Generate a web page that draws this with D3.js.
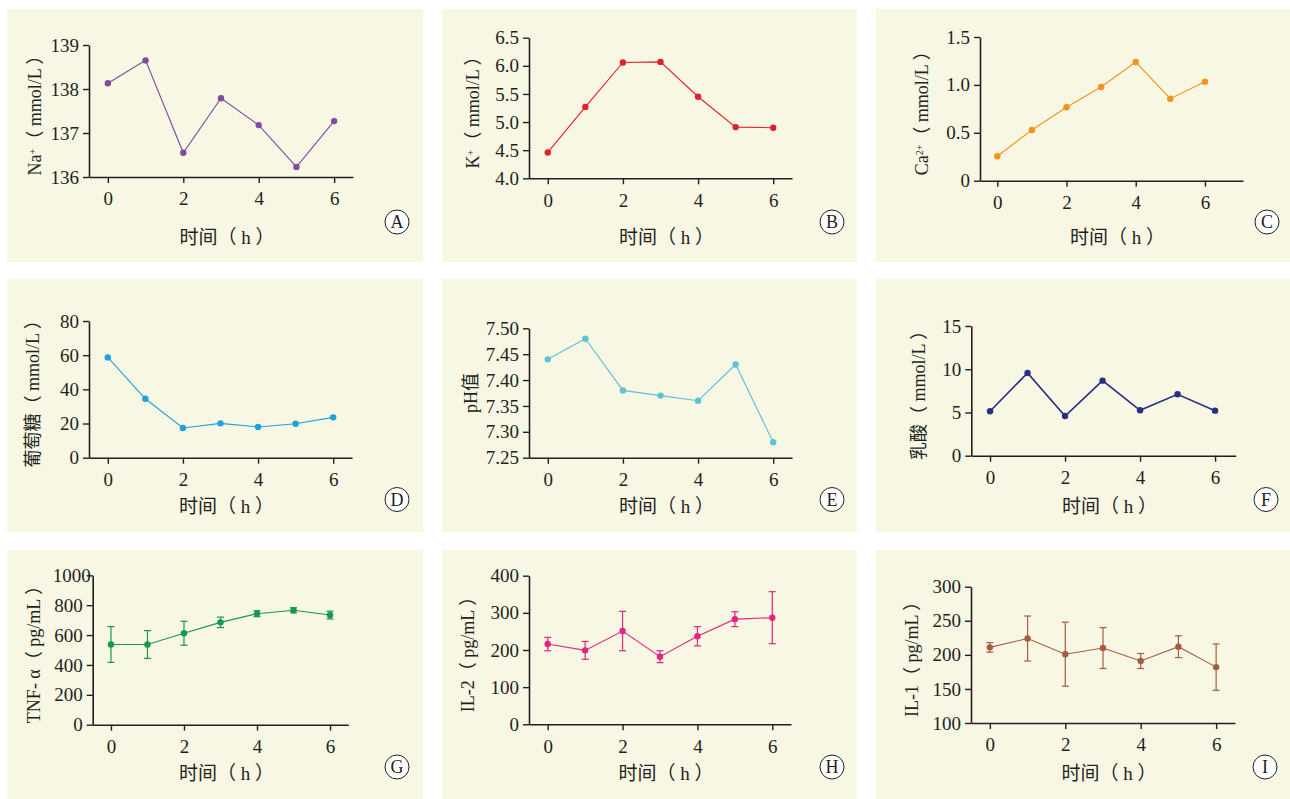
<!DOCTYPE html>
<html>
<head>
<meta charset="utf-8">
<script src="https://cdn.jsdelivr.net/npm/d3@7"></script>
<style>
  body { margin: 0; background: #ffffff; }
  text { font-family: "Liberation Serif", "Noto Sans CJK SC", serif; fill: #231f20; }
</style>
</head>
<body>
<div id="chart"></div>
<script>
var width = 1290;
var height = 799;

// time points (h)
var hours = [0, 1, 2, 3, 4, 5, 6];
var hourTicks = [0, 2, 4, 6];

// A-F: single series
var naValues = [138.13, 138.65, 136.55, 137.79, 137.18, 136.23, 137.27];
var kValues = [4.46, 5.27, 6.06, 6.07, 5.45, 4.91, 4.90];
var caValues = [0.255, 0.53, 0.766, 0.978, 1.239, 0.856, 1.034];
var gluValues = [58.7, 34.5, 17.4, 20.1, 18.0, 19.9, 23.6];
var phValues = [7.44, 7.48, 7.38, 7.37, 7.36, 7.43, 7.28];
var lacValues = [5.14, 9.57, 4.59, 8.68, 5.25, 7.1, 5.21];

// G-I: mean with error
var tnfMean = [537, 537, 612, 685, 743, 766, 734];
var tnfErr = [120, 93, 80, 35, 20, 17, 26];
var il2Mean = [216, 199, 251, 182, 237, 283, 287];
var il2Err = [18, 24, 53, 16, 26, 20, 70];
var il1Mean = [211, 224, 201, 210, 191, 212, 182];
var il1Err = [7, 33, 47, 30, 11, 16, 34];

// y tick labels
var naTicks = [136, 137, 138, 139];
var kTicks = [4.0, 4.5, 5.0, 5.5, 6.0, 6.5];
var caTicks = [0, 0.5, 1.0, 1.5];
var gluTicks = [0, 20, 40, 60, 80];
var phTicks = [7.25, 7.30, 7.35, 7.40, 7.45, 7.50];
var lacTicks = [0, 5, 10, 15];
var tnfTicks = [0, 200, 400, 600, 800, 1000];
var il2Ticks = [0, 100, 200, 300, 400];
var il1Ticks = [100, 150, 200, 250, 300];

var bgColor = "#f8f7e3";
var axisColor = "#231f20";

var panels = [
  { letter: "A", bg: [7, 9, 416, 253], left: 89, right: 353, top: 45, bottom: 177, xd: [-0.5, 6.5],
    yd: [136, 139], ticks: naTicks, fmt: d3.format("d"), values: naValues, color: "#7e4b9d",
    ylab: [["Na", ""], ["+", "sup"], ["（ mmol/L ）", ""]], yoff: -54, xlabY: 237, circ: [397, 222] },
  { letter: "B", bg: [442, 9, 415, 253], left: 529, right: 792, top: 37.7, bottom: 178.3, xd: [-0.5, 6.5],
    yd: [4, 6.5], ticks: kTicks, fmt: d3.format(".1f"), values: kValues, color: "#e41f2c",
    ylab: [["K", ""], ["+", "sup"], ["（ mmol/L ）", ""]], yoff: -56, xlabY: 237, circ: [832, 222] },
  { letter: "C", bg: [876, 9, 414, 253], left: 980, right: 1243, top: 37, bottom: 180.7, xd: [-0.5, 7.1],
    yd: [0, 1.5], ticks: caTicks, fmt: d => d === 0 ? "0" : d3.format(".1f")(d), values: caValues, color: "#f39319",
    ylab: [["Ca", ""], ["2+", "sup"], ["（ mmol/L ）", ""]], yoff: -58, xlabY: 237, circ: [1267, 222] },
  { letter: "D", bg: [7, 279, 416, 253], left: 89, right: 352, top: 321, bottom: 457.7, xd: [-0.5, 6.5],
    yd: [0, 80], ticks: gluTicks, fmt: d3.format("d"), values: gluValues, color: "#1fa1de",
    ylab: [["葡萄糖（ mmol/L ）", ""]], yoff: -56, xlabY: 506.5, circ: [397, 499.5] },
  { letter: "E", bg: [442, 279, 415, 253], left: 529, right: 792, top: 328.3, bottom: 457.7, xd: [-0.5, 6.5],
    yd: [7.25, 7.5], ticks: phTicks, fmt: d3.format(".2f"), values: phValues, color: "#5cc3d5",
    ylab: [["pH值", ""]], yoff: -58, xlabY: 506.5, circ: [832, 499.5] },
  { letter: "F", bg: [876, 279, 414, 253], left: 971.3, right: 1235.7, top: 326, bottom: 455.7, xd: [-0.5, 6.55],
    yd: [0, 15], ticks: lacTicks, fmt: d3.format("d"), values: lacValues, color: "#262f84", lw: 1.6,
    ylab: [["乳酸（ mmol/L ）", ""]], yoff: -53, xlabY: 506.5, circ: [1266, 499.5] },
  { letter: "G", bg: [7, 550, 416, 249], left: 92.7, right: 348.3, top: 575.3, bottom: 724.7, xd: [-0.5, 6.5],
    yd: [0, 1000], ticks: tnfTicks, fmt: d3.format("d"), values: tnfMean, err: tnfErr, color: "#17994b",
    ylab: [["TNF- α（ pg/mL ）", ""]], yoff: -59, xlabY: 773, circ: [397, 767], topShift: 8 },
  { letter: "H", bg: [442, 550, 415, 249], left: 529, right: 791, top: 575.7, bottom: 724.3, xd: [-0.5, 6.5],
    yd: [0, 400], ticks: il2Ticks, fmt: d3.format("d"), values: il2Mean, err: il2Err, color: "#e2257f",
    ylab: [["IL-2（ pg/mL ）", ""]], yoff: -61, xlabY: 773, circ: [832, 767] },
  { letter: "I", bg: [876, 550, 414, 249], left: 971, right: 1235, top: 586.7, bottom: 723, xd: [-0.5, 6.5],
    yd: [100, 300], ticks: il1Ticks, fmt: d3.format("d"), values: il1Mean, err: il1Err, color: "#a65c41",
    ylab: [["IL-1（ pg/mL ）", ""]], yoff: -59, xlabY: 773, circ: [1265, 767] }
];

var svg = d3.select("#chart")
  .append("svg")
  .attr("width", width)
  .attr("height", height);

panels.forEach(function (p) {
  draw_panel(p);
});

function draw_panel(p) {
  var g = svg.append("g");

  g.append("rect")
    .attr("x", p.bg[0]).attr("y", p.bg[1])
    .attr("width", p.bg[2]).attr("height", p.bg[3])
    .attr("fill", bgColor);

  var x = d3.scaleLinear().domain(p.xd).range([p.left, p.right]);
  var y = d3.scaleLinear().domain(p.yd).range([p.bottom, p.top]);

  var xAxis = g.append("g")
    .attr("transform", `translate(0,${p.bottom})`)
    .call(d3.axisBottom(x).tickValues(hourTicks).tickFormat(d3.format("d"))
      .tickSize(6).tickSizeOuter(0).tickPadding(9));

  var yAxis = g.append("g")
    .attr("transform", `translate(${p.left},0)`)
    .call(d3.axisLeft(y).tickValues(p.ticks).tickFormat(p.fmt).tickSize(6).tickSizeOuter(0).tickPadding(4));

  [xAxis, yAxis].forEach(function (a) {
    a.select(".domain").attr("stroke", axisColor).attr("stroke-width", 1.6);
    a.selectAll(".tick line").attr("stroke", axisColor).attr("stroke-width", 1.4);
    a.selectAll(".tick text")
      .attr("fill", axisColor)
      .style("font-size", "19px")
      .style("font-family", "'Liberation Serif', serif");
  });

  // the widest top label sits closer to the axis in the original
  if (p.topShift) {
    yAxis.selectAll(".tick text")
      .filter((d) => d === p.ticks[p.ticks.length - 1])
      .attr("dx", p.topShift);
  }

  var color = p.color;

  // error bars
  if (p.err) {
    var eb = g.append("g")
      .selectAll("g")
      .data(hours)
      .join("g");
    eb.append("line")
      .attr("x1", (d) => x(d)).attr("x2", (d) => x(d))
      .attr("y1", (d, i) => y(p.values[i] - p.err[i]))
      .attr("y2", (d, i) => y(p.values[i] + p.err[i]))
      .attr("stroke", color).attr("stroke-width", 1.2);
    [-1, 1].forEach(function (s) {
      eb.append("line")
        .attr("x1", (d) => x(d) - 3.5).attr("x2", (d) => x(d) + 3.5)
        .attr("y1", (d, i) => y(p.values[i] + s * p.err[i]))
        .attr("y2", (d, i) => y(p.values[i] + s * p.err[i]))
        .attr("stroke", color).attr("stroke-width", 1.2);
    });
  }

  var line = d3.line()
    .x((d) => x(d))
    .y((d, i) => y(p.values[i]));

  g.append("path")
    .datum(hours)
    .attr("d", line)
    .attr("fill", "none")
    .attr("stroke", color)
    .attr("stroke-width", p.lw || 1.1);

  g.append("g")
    .selectAll("circle")
    .data(hours)
    .join("circle")
    .attr("cx", (d) => x(d))
    .attr("cy", (d, i) => y(p.values[i]))
    .attr("r", 3.2)
    .attr("fill", color);

  // y label, rotated
  var cy = (p.top + p.bottom) / 2;
  var ylab = g.append("text")
    .attr("transform", `translate(${p.left + p.yoff},${cy}) rotate(-90)`)
    .attr("text-anchor", "middle")
    .attr("dy", "0.35em")
    .style("font-size", "18px");
  p.ylab.forEach(function (part) {
    var t = ylab.append("tspan").text(part[0]);
    if (part[1] === "sup") {
      t.attr("baseline-shift", "super").style("font-size", "10px");
    }
  });

  // x label
  g.append("text")
    .attr("x", (p.left + p.right) / 2 + 6)
    .attr("y", p.xlabY)
    .attr("dy", "0.35em")
    .attr("text-anchor", "middle")
    .style("font-size", "19px")
    .text("时间（ h ）");

  // panel letter
  g.append("circle")
    .attr("cx", p.circ[0]).attr("cy", p.circ[1])
    .attr("r", 12)
    .attr("fill", "white")
    .attr("stroke", axisColor)
    .attr("stroke-width", 1);
  g.append("text")
    .attr("x", p.circ[0]).attr("y", p.circ[1])
    .attr("dy", "0.36em")
    .attr("text-anchor", "middle")
    .style("font-size", "18px")
    .text(p.letter);
}
</script>
</body>
</html>
